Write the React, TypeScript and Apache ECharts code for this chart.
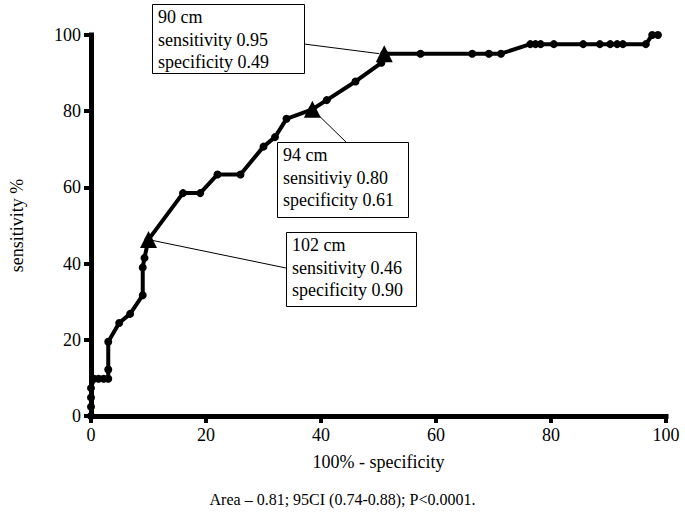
import React, { useEffect, useRef } from "react";
import * as echarts from "echarts";

// ROC curve points: [100% - specificity, sensitivity %]
const rocX = [0, 0, 0, 0, 0.5, 1.3, 2.2, 3, 3, 3, 4.9, 6.8, 9, 9, 9.3, 10, 16, 19, 22, 26, 30, 32, 34, 38.5, 41, 46, 50.5, 51, 57.3, 66.3, 69.2, 71.3, 76.4, 77.3, 78.2, 80.5, 85.6, 88.5, 90.3, 91.5, 92.5, 96.5, 97.6, 98.6];
const rocY = [0, 2.44, 4.88, 7.32, 9.76, 9.76, 9.76, 9.76, 12.2, 19.5, 24.4, 26.8, 31.7, 39.0, 41.5, 46.3, 58.5, 58.5, 63.4, 63.4, 70.7, 73.2, 78.0, 80.5, 82.9, 87.8, 92.7, 95.1, 95.1, 95.1, 95.1, 95.1, 97.6, 97.6, 97.6, 97.6, 97.6, 97.6, 97.6, 97.6, 97.6, 97.6, 100, 100];

// Cut-off points (triangles)
const cutX = [51, 38.5, 10];
const cutY = [95.1, 80.5, 46.3];
const cutLabels = [
  "90 cm\nsensitivity 0.95\nspecificity 0.49",
  "94 cm\nsensitiviy 0.80\nspecificity 0.61",
  "102 cm\nsensitivity 0.46\nspecificity 0.90",
];

const xTicks = [0, 20, 40, 60, 80, 100];
const yTicks = [0, 20, 40, 60, 80, 100];

const FONT = "Liberation Serif, Times New Roman, serif";

export default function App() {
  const ref = useRef<HTMLDivElement>(null);
  useEffect(() => {
    if (!ref.current) return;
    const chart = echarts.init(ref.current, undefined, { renderer: "svg" });
    const mkLine = () => ({ show: true, onZero: false, lineStyle: { color: "#000", width: 5, cap: "square" } });
    const mkTick = () => ({ show: true, length: 7, lineStyle: { color: "#000", width: 4 } });
    const labelStyle = { color: "#000", fontFamily: FONT, fontSize: 18, margin: 10 };
    const nameStyle = { color: "#000", fontFamily: FONT, fontSize: 18 };
    chart.setOption({
      animation: false,
      backgroundColor: "#fff",
      grid: { left: 90, right: 19, top: 35, bottom: 97 },
      title: {
        text: "Area \u2013 0.81; 95CI (0.74-0.88); P<0.0001.",
        left: "center",
        top: 486,
        textStyle: { color: "#000", fontFamily: FONT, fontSize: 16, fontWeight: "normal" },
      },
      xAxis: {
        type: "value",
        min: 0,
        max: 100,
        interval: 20,
        axisLine: mkLine(),
        axisTick: mkTick(),
        splitLine: { show: false },
        name: "100% - specificity",
        nameLocation: "middle",
        nameGap: 37,
        nameTextStyle: nameStyle,
        axisLabel: { ...labelStyle, formatter: (v: number) => (xTicks.includes(v) ? String(v) : "") },
      },
      yAxis: {
        type: "value",
        min: 0,
        max: 100,
        interval: 20,
        axisLine: mkLine(),
        axisTick: mkTick(),
        splitLine: { show: false },
        name: "sensitivity %",
        nameLocation: "middle",
        nameRotate: 90,
        nameGap: 65,
        nameTextStyle: nameStyle,
        axisLabel: { ...labelStyle, formatter: (v: number) => (yTicks.includes(v) ? String(v) : "") },
      },
      series: [
        {
          type: "line",
          data: rocX.map((x, i) => [x, rocY[i]]),
          symbol: "circle",
          symbolSize: 8,
          showSymbol: true,
          lineStyle: { color: "#000", width: 4 },
          itemStyle: { color: "#000" },
          z: 3,
        },
        {
          type: "scatter",
          data: cutX.map((x, i) => [x, cutY[i]]),
          symbol: "triangle",
          symbolSize: 17,
          itemStyle: { color: "#000", opacity: 1 },
          z: 4,
        },
      ],
    });

    const p = cutX.map((x, i) => chart.convertToPixel({ gridIndex: 0 }, [x, cutY[i]]) as number[]);
    const boxes = [
      { x: 152, y: 4, w: 152, h: 69, ax: 304, ay: 44, px: p[0][0] - 5, py: p[0][1] },
      { x: 277, y: 142, w: 131, h: 75, ax: 346, ay: 142, px: p[1][0], py: p[1][1] },
      { x: 286, y: 232, w: 130, h: 74, ax: 286, ay: 268, px: p[2][0], py: p[2][1] },
    ];
    const graphic: any[] = [];
    boxes.forEach((b, i) => {
      graphic.push({
        type: "line",
        shape: { x1: b.ax, y1: b.ay, x2: b.px, y2: b.py },
        style: { stroke: "#000", lineWidth: 1 },
        z: 10,
      });
      graphic.push({
        type: "rect",
        shape: { x: b.x + 0.5, y: b.y + 0.5, width: b.w, height: b.h },
        style: { fill: "#fff", stroke: "#000", lineWidth: 1 },
        z: 11,
      });
      graphic.push({
        type: "text",
        x: b.x + 6,
        y: b.y + 2,
        style: {
          text: cutLabels[i],
          fill: "#000",
          font: `18px ${FONT}`,
          lineHeight: 22.5,
        },
        z: 12,
      });
    });
    chart.setOption({ graphic });
    return () => chart.dispose();
  }, []);
  return <div ref={ref} style={{ width: 685, height: 513, position: "absolute", left: 0, top: 0 }} />;
}
